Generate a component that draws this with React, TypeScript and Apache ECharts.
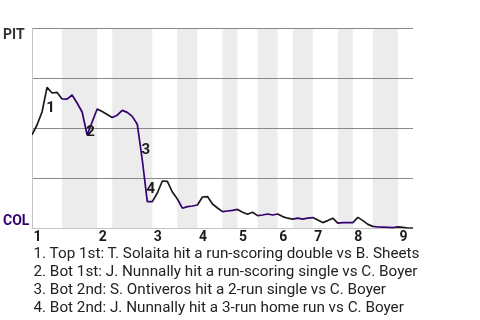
import React, { useEffect, useRef } from "react";
import * as echarts from "echarts";

// PIT win probability (%) after each plate appearance (index = PA number)
const winProb: number[] = [
  46.6, 51.5, 58, 70.3, 67.5, 67.8, 64.5, 64.4, 66.5, 62.5,
  58, 46.5, 53, 59.5, 58.2, 56.7, 55.2, 56.4, 58.8, 57.8,
  55.8, 51.9, 34, 13.2, 13.2, 17.5, 23.5, 23.3, 18, 14.5,
  9.9, 10.7, 11, 11.5, 15.5, 15.7, 12, 10, 8.2, 8.5,
  8.8, 9.3, 7.9, 6.9, 7.9, 6.2, 6.5, 7, 6.5, 7,
  5.7, 4.9, 4.4, 4.9, 4.4, 4.9, 5.2, 4, 2.7, 3.7,
  4.9, 2.4, 2.7, 2.7, 2.7, 5.3, 3.7, 1.8, 0.8, 0.5,
  0.4, 0.3, 0.2, 0.6, 0.3, 0, 0,
];

// PA index where each half-inning starts (last entry = end of game)
const halfInningStarts: number[] = [0, 6, 13, 16, 24, 29, 33, 38, 41, 45, 49, 52, 56, 61, 64, 68, 73, 76];
const inningLabels: string[] = ["1", "2", "3", "4", "5", "6", "7", "8", "9"];

// Key events: PA index at which the event ended, marker label and description
const eventPAs: number[] = [3, 11, 22, 23];
const eventMarks: string[] = ["1", "2", "3", "4"];
const eventTexts: string[] = [
  "1. Top 1st: T. Solaita hit a run-scoring double vs B. Sheets",
  "2. Bot 1st: J. Nunnally hit a run-scoring single vs C. Boyer",
  "3. Bot 2nd: S. Ontiveros hit a 2-run single vs C. Boyer",
  "4. Bot 2nd: J. Nunnally hit a 3-run home run vs C. Boyer",
];

const awayTeam = "PIT";
const homeTeam = "COL";

const AWAY_COLOR = "#1a1a1a";
const HOME_COLOR = "#33006F";
const FONT = "Roboto";

export default function App() {
  const ref = useRef<HTMLDivElement>(null);

  useEffect(() => {
    if (!ref.current) return;
    const chart = echarts.init(ref.current, undefined, { renderer: "svg" });

    const inningStarts = halfInningStarts.filter((_, i) => i % 2 === 0 && i < halfInningStarts.length - 1);

    const pieces: any[] = [];
    const bands: any[] = [];
    for (let i = 0; i < halfInningStarts.length - 1; i++) {
      const s = halfInningStarts[i];
      const e = halfInningStarts[i + 1];
      const isLast = i === halfInningStarts.length - 2;
      pieces.push(
        isLast
          ? { gte: s, lte: e, color: i % 2 === 0 ? AWAY_COLOR : HOME_COLOR }
          : { gte: s, lt: e, color: i % 2 === 0 ? AWAY_COLOR : HOME_COLOR }
      );
      if (i % 2 === 1) bands.push([{ xAxis: s }, { xAxis: e }]);
    }

    const eventData = eventPAs.map((pa, i) => ({
      value: [pa - 0.5, (winProb[pa - 1] + winProb[pa]) / 2],
      name: eventMarks[i],
    }));

    const graphics: any[] = [
      {
        type: "text",
        left: 3,
        top: 26.5,
        style: { text: awayTeam, fill: "#333", font: `bold 14px ${FONT}` },
      },
      {
        type: "text",
        left: 3,
        top: 213,
        style: { text: homeTeam, fill: HOME_COLOR, font: `bold 14px ${FONT}` },
      },
      ...eventTexts.map((t, i) => ({
        type: "text",
        left: 33.5,
        top: 245 + i * 18.1,
        style: { text: t, fill: "#222", font: `15.25px ${FONT}` },
      })),
    ];

    chart.setOption({
      animation: false,
      grid: { left: 32, right: 67, top: 28, bottom: 92 },
      xAxis: {
        type: "value",
        min: 0,
        max: halfInningStarts[halfInningStarts.length - 1],
        z: 1,
        axisLine: { show: true, lineStyle: { color: "#c4c4c4", width: 1 } },
        axisTick: { show: false },
        splitLine: { show: false },
        axisLabel: {
          customValues: inningStarts,
          formatter: (v: number) => inningLabels[inningStarts.indexOf(v)] ?? "",
          align: "left",
          fontWeight: "bold",
          fontSize: 14,
          fontFamily: FONT,
          color: "#1a1a1a",
          margin: 1,
          padding: [0, 0, 0, 1.5],
        },
      },
      yAxis: {
        type: "value",
        min: 0,
        max: 100,
        interval: 25,
        z: 1,
        axisLine: { show: true, lineStyle: { color: "#c4c4c4", width: 1 } },
        axisTick: { show: false },
        axisLabel: { show: false },
        splitLine: {
          show: true,
          lineStyle: { color: ["#c4c4c4", "#888", "#888", "#888", "#888"], width: 1 },
        },
      },
      visualMap: {
        show: false,
        type: "piecewise",
        dimension: 0,
        seriesIndex: 0,
        pieces,
      },
      series: [
        {
          type: "line",
          data: winProb.map((v, i) => [i, v]),
          symbol: "none",
          z: 2,
          lineStyle: { width: 1.7 },
          markArea: {
            silent: true,
            z: 0,
            itemStyle: { color: "#ececec" },
            data: bands,
          },
        },
        {
          type: "scatter",
          data: eventData,
          symbolSize: 0,
          z: 3,
          silent: true,
          itemStyle: { color: "#1a1a1a", opacity: 1 },
          label: {
            show: true,
            position: "inside",
            offset: [6, 7],
            formatter: (p: any) => p.name,
            fontWeight: "bold",
            fontSize: 15,
            fontFamily: FONT,
            color: "#1a1a1a",
            opacity: 1,
            textBorderWidth: 0,
            textBorderColor: "transparent",
          },
        },
      ],
      graphic: graphics,
    });

    return () => chart.dispose();
  }, []);

  return (
    <div
      ref={ref}
      style={{ position: "fixed", left: 0, top: 0, width: 480, height: 320 }}
    />
  );
}
